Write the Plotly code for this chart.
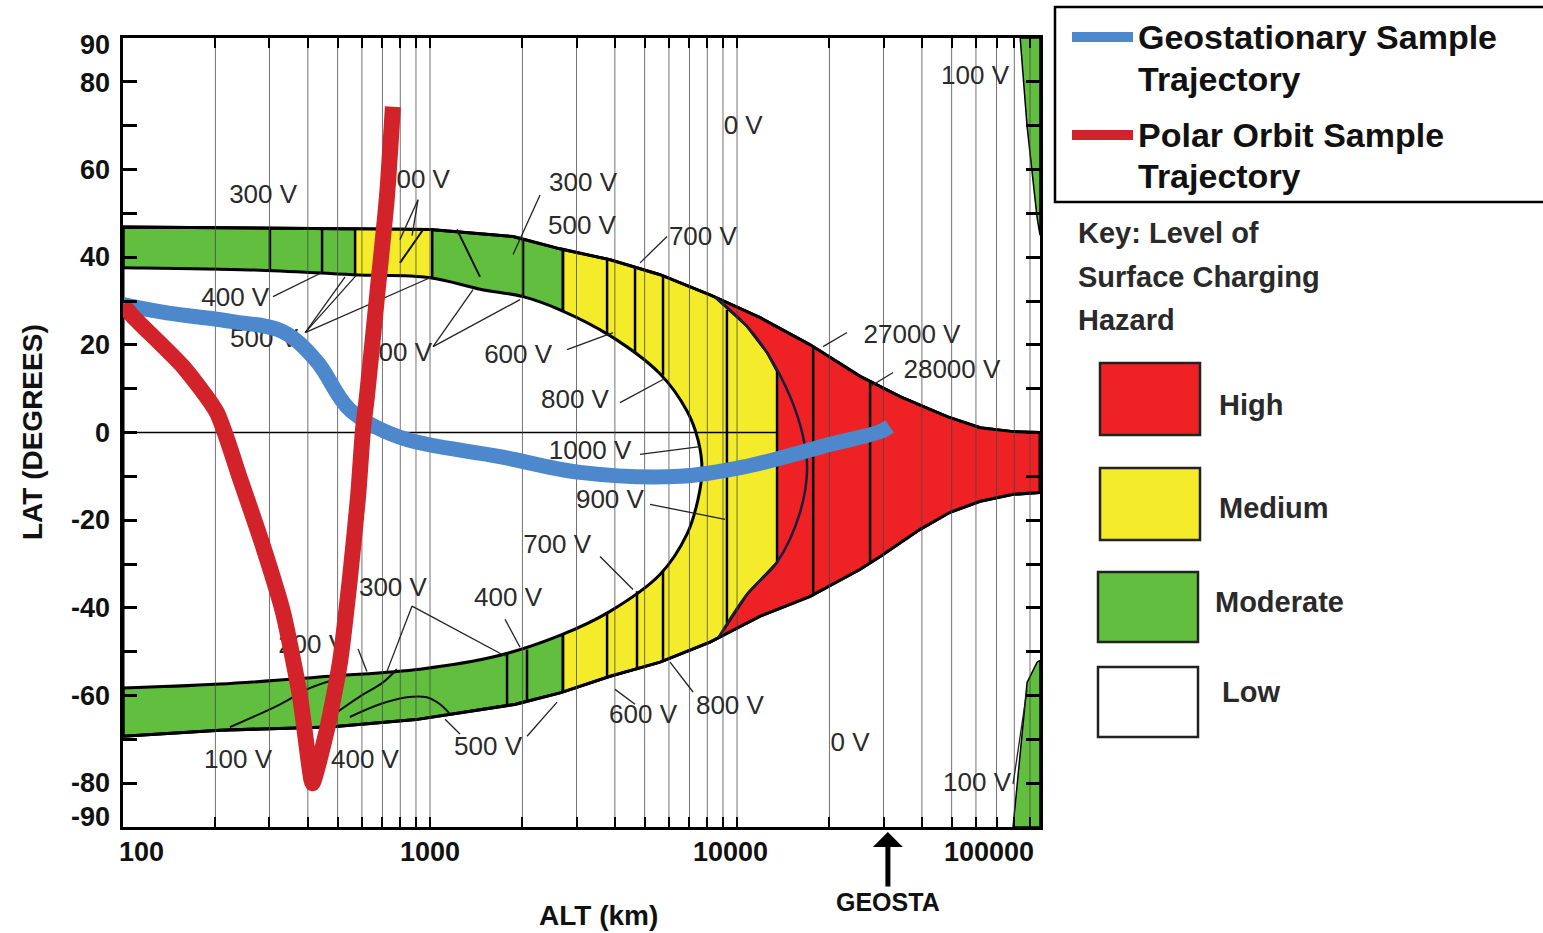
import numpy as np
import plotly.graph_objects as go

# ---------------- data (altitude km, latitude deg) ----------------
outer_top_alt = [100, 1000, 1864, 2650, 3857, 5610, 8160, 11890, 17300, 25180, 33960, 48300, 61900, 79300, 97000]
outer_top_lat = [46.9, 46.3, 44.7, 41.9, 39.4, 36.0, 31.4, 26.2, 20.0, 12.8, 8.2, 3.6, 1.1, 0.2, 0.0]
outer_bot_alt = [97000, 79300, 61900, 49400, 39450, 29240, 25180, 17300, 11890, 8160, 5610, 3857, 2650, 1900, 1136, 900, 472, 207, 100]
outer_bot_lat = [-13.7, -14.1, -15.7, -18.2, -22.1, -28.3, -31.2, -37.4, -41.9, -47.8, -52.4, -55.6, -59.4, -62.0, -64.5, -65.5, -67.2, -67.9, -69.3]

inner_alt = [70, 100, 259, 561, 1000, 1455, 2009, 2650, 3857, 5610, 6870, 7460, 7690, 7460, 6870, 5610, 3857, 2650, 1653, 927, 472, 207, 100, 70]
inner_lat = [37.7, 37.6, 37.1, 36.0, 35.3, 32.7, 31.0, 28.0, 22.1, 13.4, 4.9, -1.6, -8.4, -15.3, -23.2, -32.4, -40.8, -46.3, -51.0, -54.0, -55.6, -57.4, -58.3, -58.5]

yellow_alt = [2710, 3857, 5610, 8160, 8480, 10780, 12530, 13500, 13500, 10780, 8700, 8160, 5610, 3857, 2710]
yellow_lat = [41.7, 39.4, 36.0, 31.4, 30.9, 24.2, 18.2, 14.0, -29.6, -36.9, -46.8, -47.8, -52.4, -55.6, -59.2]

patch_alt = [570, 1016, 1016, 570]
patch_lat = [46.5, 46.3, 35.3, 36.0]

arc_alt = [8480, 10780, 12530, 14890, 16410, 16910, 16040, 13500, 10780, 8700]
arc_lat = [30.9, 24.2, 18.2, 8.2, -0.9, -8.4, -18.2, -29.6, -36.9, -46.8]

edge_top_alt = [83600, 97000, 97000, 94900, 88000, 84500]
edge_top_lat = [90, 90, 45, 49, 70, 85]
edge_bot_alt = [79250, 97000, 97000, 94900, 88050, 83000]
edge_bot_lat = [-90, -90, -52, -52.4, -57, -75]

divider_alt = [301, 445, 570, 1016, 2009, 2710, 3773, 4653, 5740,
               1782, 2070, 2710, 3773, 4723, 5740, 9270, 17700, 27120]
divider_lo = [37.2, 36.5, 36.0, 35.3, 31.0, 27.7, 22.5, 18.0, 13.0,
              -62.3, -61.3, -59.2, -55.8, -53.9, -52.2, -43.5, -37.0, -29.8]
divider_hi = [46.8, 46.7, 46.5, 46.3, 44.0, 41.8, 39.6, 37.7, 35.8,
              -50.3, -49.5, -46.0, -41.1, -36.2, -31.4, 28.0, 19.6, 11.7]

contour_a_alt = [223, 325, 397, 472]
contour_a_lat = [-67.2, -62.0, -58.6, -56.7]
contour_b_alt = [498, 592, 703, 780]
contour_b_lat = [-63.8, -60.2, -57.0, -54.0]
contour_c_alt = [548, 686, 839, 976, 1078, 1164]
contour_c_lat = [-64.9, -62.0, -60.4, -60.4, -62.0, -64.3]
top_slant_alt = [1224, 1455, None, 798, 950]
top_slant_lat = [46.3, 35.5, None, 38.7, 46.3]

grid_alts = [200, 300, 400, 500, 600, 700, 800, 900, 1000,
             2000, 3000, 4000, 5000, 6000, 7000, 8000, 9000, 10000,
             20000, 30000, 40000, 50000, 60000, 70000, 80000, 90000]

geo_alt = [100, 139, 228, 332, 428, 548, 798, 1690, 3080, 6520, 10780, 16040, 20100, 29240, 31400]
geo_lat = [29.2, 27.3, 25.3, 23.0, 16.2, 5.2, -1.1, -5.5, -9.1, -10.0, -7.7, -4.6, -2.7, 0.2, 1.4]

polar_alt = [100, 108, 157, 202, 241, 286, 332, 377, 406, 414, 462, 509, 548, 583, 605, 623, 672, 724, 757]
polar_lat = [29.2, 26.4, 15.0, 4.6, -10.7, -26.0, -41.0, -60.2, -77.0, -80.0, -67.7, -52.4, -33.5, -14.6, 0.7, 8.2, 31.0, 53.8, 74.3]

label_text = ["300 V", "400 V", "300 V", "500 V", "700 V", "0 V", "400 V", "500 V", "400 V",
              "600 V", "800 V", "1000 V", "900 V", "700 V", "300 V", "400 V", "200 V", "500 V",
              "600 V", "800 V", "100 V", "400 V", "0 V", "100 V", "100 V", "27000 V", "28000 V"]
label_alt = [286, 900, 3150, 3125, 7740, 10470, 232, 288, 787,
             1936, 2966, 3320, 3855, 2594, 757, 1795, 413, 1545,
             4943, 9480, 237, 614, 23330, 60500, 59600, 37150, 50100]
label_lat = [53.8, 57.2, 56.5, 46.7, 44.2, 69.5, 30.3, 21.0, 17.8,
             17.3, 7.1, -4.6, -15.7, -26.0, -35.8, -38.0, -48.8, -72.2,
             -64.7, -62.7, -75.0, -75.0, -71.1, -80.4, 81.1, 21.9, 13.9]

pointer_segments = [
    (308, 31.0, 445, 36.5), (392, 22.8, 529, 35.5), (392, 22.8, 574, 35.8), (392, 22.8, 1000, 35.3),
    (1023, 19.6, 1381, 32.6), (1023, 19.6, 1964, 30.3), (914, 53.1, 798, 44.0), (914, 53.1, 874, 44.9),
    (2282, 54.2, 1864, 40.6), (5916, 44.7, 4831, 38.7), (2795, 18.9, 3946, 22.8), (4158, 6.8, 5741, 12.1),
    (4831, -5.0, 7577, -3.2), (5207, -16.4, 9140, -19.8), (3579, -28.3, 4583, -35.8),
    (1755, -42.6, 1964, -49.0), (874, -39.6, 1755, -51.0), (874, -39.6, 724, -54.5),
    (1119, -65.4, 1252, -68.8), (2070, -69.3, 2593, -61.5), (4005, -58.6, 4653, -62.0),
    (6051, -52.4, 7190, -59.2), (19060, 19.6, 22820, 22.8), (27120, 10.5, 32230, 13.7),
    (79250, -80.2, 88050, -58.6), (583, -49.4, 623, -54.5),
]

y_tick_vals = [-80, -70, -60, -50, -40, -30, -20, -10, 0, 10, 20, 30, 40, 50, 60, 70, 80]
y_label_text = ["90", "80", "60", "40", "20", "0", "-20", "-40", "-60", "-80", "-90"]
y_label_pos = [88.4, 79.7, 60, 40, 20, 0, -20, -40, -60, -80, -87.7]
x_label_text = ["100", "1000", "10000", "100000"]
x_label_pos = [115, 1000, 9500, 66000]

hazard_levels = ["High", "Medium", "Moderate", "Low"]

# ---------------- styling ----------------
GREEN = "#62BE3E"
YELLOW = "#F4EB2A"
RED = "#EE2224"
BLUE_T = "#4D88CC"
RED_T = "#D2232A"
FONT = "Liberation Sans"

W_FIG, H_FIG = 1543, 933
L, R, T, B = 123, 503, 38, 106
PW, PH = W_FIG - L - R, H_FIG - T - B


def px(x):
    return (x - L) / PW


def py(y):
    return (H_FIG - B - y) / PH


fig = go.Figure()


def poly(xs, ys, fill, line_color=None, lw=0, shape="linear"):
    fig.add_trace(go.Scatter(
        x=list(xs) + [xs[0]], y=list(ys) + [ys[0]], mode="lines", fill="toself",
        fillcolor=fill, line=dict(color=line_color or fill, width=lw if lw else 0.5, shape=shape),
        hoverinfo="skip", showlegend=False))


def lines(xs, ys, color, width, shape="linear", smoothing=1.0):
    fig.add_trace(go.Scatter(x=xs, y=ys, mode="lines",
                             line=dict(color=color, width=width, shape=shape, smoothing=smoothing),
                             hoverinfo="skip", showlegend=False, connectgaps=False))


env_alt = outer_top_alt + outer_bot_alt
env_lat = outer_top_lat + outer_bot_lat

# envelope (green)
poly(env_alt, env_lat, GREEN, "black", 3)
# red part of envelope
red_alt = [a for a in outer_top_alt if a >= 8000] + [a for a in outer_bot_alt if a >= 8000]
red_lat = [l for a, l in zip(outer_top_alt, outer_top_lat) if a >= 8000] + \
          [l for a, l in zip(outer_bot_alt, outer_bot_lat) if a >= 8000]
poly(red_alt, red_lat, RED)
# yellow region
poly(yellow_alt, yellow_lat, YELLOW, "black", 2.5)
poly(patch_alt, patch_lat, YELLOW, "black", 2)
# right-edge green strips
poly(edge_top_alt, edge_top_lat, GREEN, "black", 1.5)
poly(edge_bot_alt, edge_bot_lat, GREEN, "black", 1.5)
# inner low region
poly(inner_alt, inner_lat, "white", "black", 3, shape="spline")
# envelope outline on top
lines(env_alt + [env_alt[0]], env_lat + [env_lat[0]], "black", 3)

# dividers
dx, dy = [], []
for a, lo, hi in zip(divider_alt, divider_lo, divider_hi):
    dx += [a, a, None]
    dy += [lo, hi, None]
lines(dx, dy, "black", 2.5)

lines(arc_alt, arc_lat, "#1c1c3c", 2.5, shape="spline")
for cx, cy in [(contour_a_alt, contour_a_lat), (contour_b_alt, contour_b_lat), (contour_c_alt, contour_c_lat)]:
    lines(cx, cy, "#111", 2, shape="spline")
lines(top_slant_alt, top_slant_lat, "#111", 2)

# zero line
lines([100, 13500], [0, 0], "black", 1.5)

# grid lines
gx, gy = [], []
for a in grid_alts:
    gx += [a, a, None]
    gy += [-90, 90, None]
lines(gx, gy, "rgba(70,70,70,0.75)", 1)

# pointer lines
ptx, pty = [], []
for a1, l1, a2, l2 in pointer_segments:
    ptx += [a1, a2, None]
    pty += [l1, l2, None]
lines(ptx, pty, "#222", 1.3)

# labels
fig.add_trace(go.Scatter(x=label_alt, y=label_lat, mode="text", text=label_text,
                         textposition="middle center",
                         textfont=dict(family=FONT, size=26, color="#2a2a2a"),
                         hoverinfo="skip", showlegend=False, cliponaxis=False))

# trajectories
lines(geo_alt, geo_lat, BLUE_T, 15, shape="spline", smoothing=1.0)
lines(polar_alt, polar_lat, RED_T, 16, shape="spline", smoothing=0.6)

# ---------------- layout ----------------
fig.update_layout(
    width=W_FIG, height=H_FIG, autosize=False,
    margin=dict(l=L, r=R, t=T, b=B, pad=0),
    paper_bgcolor="white", plot_bgcolor="white",
    showlegend=False,
    xaxis=dict(type="log", range=[2, np.log10(97000)], showgrid=False, zeroline=False,
               tickvals=grid_alts, ticks="inside", ticklen=10, tickwidth=1.5, tickcolor="black",
               showticklabels=False, showline=True, linecolor="black", linewidth=3, mirror="ticks"),
    yaxis=dict(range=[-90, 90], showgrid=False, zeroline=False,
               tickvals=y_tick_vals, ticks="inside", ticklen=14, tickwidth=2.5, tickcolor="black",
               showticklabels=False, showline=True, linecolor="black", linewidth=3, mirror="ticks"),
)

ann = []
for t, v in zip(y_label_text, y_label_pos):
    ann.append(dict(x=px(112), y=v, xref="paper", yref="y", text="<b>%s</b>" % t, showarrow=False,
                    xanchor="right", yanchor="middle", font=dict(family=FONT, size=27, color="#111")))
for t, v in zip(x_label_text, x_label_pos):
    ann.append(dict(x=np.log10(v), y=py(852), xref="x", yref="paper", text="<b>%s</b>" % t,
                    showarrow=False, xanchor="center", yanchor="middle",
                    font=dict(family=FONT, size=27, color="#111")))
ann.append(dict(x=px(32), y=py(432), xref="paper", yref="paper", text="<b>LAT (DEGREES)</b>",
                textangle=-90, showarrow=False, xanchor="center", yanchor="middle",
                font=dict(family=FONT, size=28, color="#111")))
ann.append(dict(x=px(598), y=py(915), xref="paper", yref="paper", text="<b>ALT (km)</b>",
                showarrow=False, xanchor="center", yanchor="middle",
                font=dict(family=FONT, size=28, color="#111")))
ann.append(dict(x=np.log10(31000), y=py(832), xref="x", yref="paper", text="<b>GEOSTA</b>",
                showarrow=True, ax=0, ay=70, arrowhead=1, arrowsize=1.0, arrowwidth=5,
                arrowcolor="black", font=dict(family=FONT, size=25, color="#111")))

# trajectory legend box
shapes = [
    dict(type="rect", xref="paper", yref="paper", x0=px(1055), x1=px(1552), y0=py(202), y1=py(7),
         line=dict(color="black", width=2.5), fillcolor="white", layer="above"),
    dict(type="line", xref="paper", yref="paper", x0=px(1072), x1=px(1133), y0=py(37), y1=py(37),
         line=dict(color=BLUE_T, width=10)),
    dict(type="line", xref="paper", yref="paper", x0=px(1072), x1=px(1133), y0=py(135), y1=py(135),
         line=dict(color=RED_T, width=10)),
]
legend_texts = [("Geostationary Sample", 37), ("Trajectory", 79), ("Polar Orbit Sample", 135), ("Trajectory", 176)]
for t, yy in legend_texts:
    ann.append(dict(x=px(1136), y=py(yy), xref="paper", yref="paper", text="<b>%s</b>" % t,
                    showarrow=False, xanchor="left", yanchor="middle",
                    font=dict(family=FONT, size=34, color="#111")))

for t, yy in [("Key: Level of", 233), ("Surface Charging", 277), ("Hazard", 320)]:
    ann.append(dict(x=px(1076), y=py(yy), xref="paper", yref="paper", text="<b>%s</b>" % t,
                    showarrow=False, xanchor="left", yanchor="middle",
                    font=dict(family=FONT, size=29, color="#2a2a2a")))

key_boxes = [(RED, 363, 435, 1100, 1217, 405), (YELLOW, 468, 540, 1100, 1217, 508),
             (GREEN, 572, 642, 1098, 1213, 602), ("white", 667, 737, 1098, 1220, 692)]
for lvl, (col, y0, y1, x0, tx, ty) in zip(hazard_levels, key_boxes):
    shapes.append(dict(type="rect", xref="paper", yref="paper", x0=px(x0), x1=px(x0 + 100),
                       y0=py(y1), y1=py(y0), fillcolor=col, line=dict(color="#222", width=2.5)))
    ann.append(dict(x=px(tx), y=py(ty), xref="paper", yref="paper", text="<b>%s</b>" % lvl,
                    showarrow=False, xanchor="left", yanchor="middle",
                    font=dict(family=FONT, size=29, color="#2a2a2a")))

fig.update_layout(shapes=shapes, annotations=ann)
fig.write_html("out.html", config={"displayModeBar": False},
               post_script="document.body.style.margin='0px';document.body.style.padding='0px';")
